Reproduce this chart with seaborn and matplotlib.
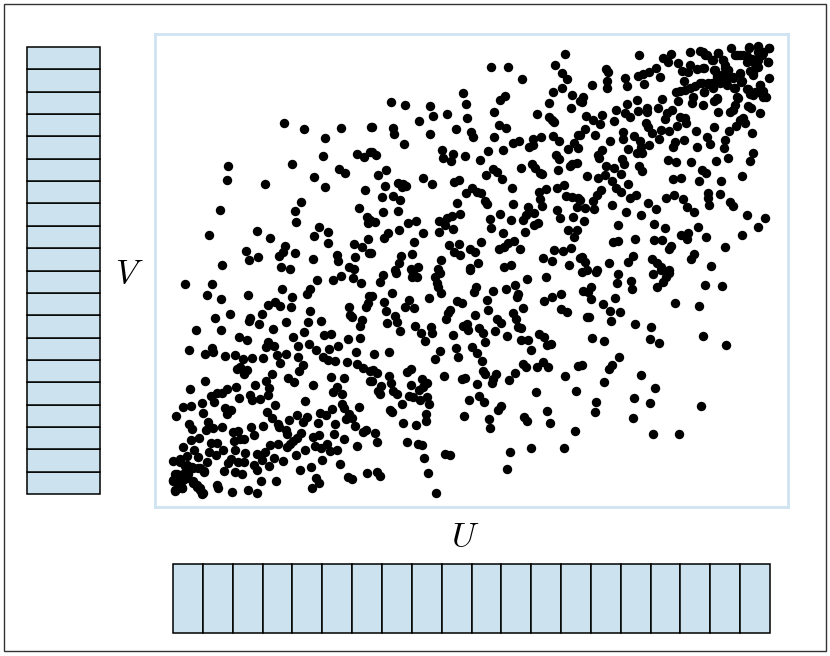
import numpy as np
import pandas as pd
import seaborn as sns
import matplotlib.pyplot as plt
from matplotlib.patches import Rectangle

# values, on a scale of 597 units for U and 447 for V
u_low_left = [12,39,34,48,75,109,119,134,137,144,160,168,180,188,196,95,102,107,118,137,176,177,179,189,187,193,195,57,42,89,77,76,86,113,135,148,23,48,100,131,151,158,66,74,120,175,187,95,93,101,125,136,165,156,143,16,39,32,40,52,62,70,79,90,104,113,107,125,150,155,162,174,183,184,190,197,130,126,67,64,74,71,99,115,121,158,171,197,32,93,82,96,63,140,164,160,169,17,54,44,49,38,41,77,79,87,95,66,132,102,29,18,10,3,30,52,58,54,169,171,186,159,94,99,124,134,147,153,176,179,173,116,130,145,162,182,35,16,19,33,40,49,78,90,105,106,60,65,81,113,114,128,161,193,190,171,146,140,18,26,61,67,71,124,120,117,114,38,44,97,105,142,148,154,184,10,21,62,132,157,164,36,50,25,14,43,34,72,84,92,123,101,0,7,14,20,27,31,58,55,51,65,71,81,84,89,96,110,149,167,127,138,62,69,194,175,179,4,10,0,7,14,20,27,29,2,9,24,44,45,59,75,84,88,103,143,146,139]
v_low_left = [210,210,199,195,199,205,197,200,205,214,214,218,216,211,198,189,192,188,187,183,187,179,177,174,168,187,191,180,176,180,176,173,170,172,172,173,164,164,165,162,159,160,157,154,157,155,156,152,147,148,148,150,148,145,144,144,146,140,142,138,139,135,136,136,139,140,131,137,137,134,133,132,142,130,126,123,129,123,127,125,124,120,120,116,112,117,116,113,113,113,109,106,107,109,107,102,100,105,105,101,101,98,92,99,94,95,99,96,93,89,91,88,87,78,81,86,84,80,90,86,87,85,82,76,79,77,81,79,80,76,75,74,72,71,70,68,72,70,65,64,66,67,67,68,70,67,62,63,59,64,60,61,60,64,62,55,59,57,54,56,53,55,55,56,53,50,47,51,51,49,50,48,46,50,48,47,44,44,44,43,44,42,44,37,38,39,32,41,40,42,39,36,33,35,29,26,26,23,35,31,23,32,32,29,24,34,28,33,34,30,24,27,22,20,21,17,15,20,20,14,11,16,11,6,0,3,6,7,9,6,2,4,1,13,13,16,11,6]

u_low_mid = [210,223,240,239,244,262,267,207,264,265,268,219,256,199,211,236,232,241,213,222,224,214,227,242,248,258,259,252,280,267,262,283,285,201,216,297,354,373,342,333,320,303,301,345,344,314,284,289,315,277,275,273,302,340,343,350,371,379,388,388,394,324,328,290,294,295,306,310,322,334,345,348,366,371,348,355,312,299,304,309,358,374,378,350,353,364,370,375,405,200,204,238,234,216,218,199,249,254,250,246,238,271,289,292,310,312,323,320,319,342,336,304,392,208,205,207,220,224,236,240,247,254,256,229,296,306,311,328,325,363,403,217,219,253,253,230,243,291,316,317,351,354,374,377,402,202,204,234,245,249,251,272,277,337,358,391,334,255,204,207,263]
v_low_mid = [219,221,221,217,217,217,221,212,211,207,201,201,196,198,192,194,187,186,183,178,172,171,163,168,161,167,161,153,159,143,135,146,137,140,142,224,215,217,209,205,203,207,202,200,197,194,193,191,184,184,181,175,179,181,175,186,193,197,200,185,182,175,171,168,170,164,166,161,163,158,167,166,160,157,154,154,152,147,141,133,144,149,150,130,127,127,132,127,128,124,121,125,122,118,111,113,115,111,107,104,109,118,115,116,123,120,120,115,111,121,114,110,118,108,103,100,103,100,98,97,94,97,90,90,94,98,92,88,84,102,103,84,82,80,73,71,69,78,75,66,77,73,83,71,63,61,52,52,50,49,36,40,39,42,46,46,25,21,22,18,1]

u_low_right = [409,423,445,458,444,459,480,488,496,493,490,484,532,549,418,410,415,418,442,430,437,447,438,414,416,502,526,462,478,530,553,419,431,477,486,446,439,436,409,468,431,482,461,423,422,477,528,460,480,506]
v_low_right = [222,222,220,213,211,205,220,224,221,217,212,207,209,208,207,203,202,195,196,190,183,182,173,177,177,191,188,170,167,158,149,156,153,155,151,137,129,125,129,119,112,106,96,92,82,91,88,76,60,60]

u_high_left = [111,131,152,168,198,150,184,191,197,55,119,166,172,54,141,92,152,192,128,47,122,186,194,195,123,146,36,84,141,155,97,195,155,181,189,196,73,112,110,106,122,76,85,140,164,165,182,49,108,117,176,181]
v_high_left = [371,365,356,366,367,338,340,337,342,328,330,325,321,314,317,310,307,304,292,284,283,286,277,271,272,267,259,263,258,262,256,255,251,250,247,241,243,248,242,238,241,234,237,235,239,233,237,229,227,225,227,225]

u_high_mid = [392,318,335,382,389,394,349,290,380,389,399,332,327,218,232,257,293,376,407,398,321,364,274,260,294,376,379,381,246,326,333,199,220,221,283,257,298,300,321,368,380,386,405,360,346,340,360,356,231,401,405,395,330,315,199,203,269,280,270,278,292,307,383,386,348,359,362,367,369,385,397,399,404,320,324,313,329,213,205,250,259,212,225,229,230,233,281,286,339,384,391,373,366,209,220,227,284,293,299,304,308,312,314,367,369,340,393,399,405,404,210,225,287,355,327,361,384,387,400,353,350,338,317,202,197,235,243,266,274,279,272,266,280,365,361,318,226,250,352,330,215,211,241,395,404,401,308,276,286,341,335,331,326,347,297,302,281,287,239,228,381,390,398,370,379,198,226,268,305,297,245,238,222,265,338,331,396,407]
v_high_mid = [440,427,427,429,421,415,415,401,402,406,399,398,394,392,389,388,390,391,393,386,382,380,380,378,376,377,374,372,373,369,366,367,366,360,365,360,362,357,357,357,358,353,359,355,353,351,349,347,350,351,346,345,344,343,342,339,344,340,336,333,338,334,339,335,326,330,326,321,320,324,328,330,331,325,322,319,315,324,319,316,310,308,311,307,310,308,312,314,306,306,309,305,302,297,298,294,291,301,306,302,301,293,290,295,288,290,298,297,296,287,282,283,280,287,280,281,284,276,277,279,274,274,275,272,274,271,273,273,276,278,269,262,265,271,269,266,264,261,262,261,261,256,252,264,264,257,252,249,250,253,251,247,245,245,245,242,242,239,240,238,244,243,246,236,233,241,231,234,231,226,227,225,224,225,229,227,229,236]

u_high_right = [466,498,490,495,505,517,527,532,545,539,550,552,558,564,570,576,585,596,589,585,595,574,584,590,433,435,483,509,517,515,524,531,541,544,549,555,580,567,560,452,434,419,434,454,465,470,476,487,471,511,596,539,535,527,522,517,512,507,503,540,547,554,561,568,575,587,590,593,580,582,564,531,410,409,464,489,520,519,505,544,541,530,454,452,443,457,465,474,474,485,499,494,492,575,578,562,560,557,545,587,413,420,427,429,441,507,512,513,570,572,567,563,556,541,473,475,504,488,496,523,579,412,407,422,450,450,461,479,486,534,552,511,437,467,476,468,502,500,537,524,551,455,464,469,429,425,426,555,580,577,495,503,518,543,449,451,433,441,466,469,529,533,569,414,425,432,448,500,508,526,548,439,443,448,455,428,424,420,463,457,501,493,510,535,535,547,536,557,560,412,407,421,439,475,483,514,521,453,468,574,592,585,411,445,481,492,525,508,515,514,533,569,462,481,489,445,440,552,498,496,460,455,521,518,412,409,436,479,484,488,538,424,496,414]
v_high_right = [439,440,436,432,431,442,443,439,441,434,434,426,446,439,439,446,447,446,439,434,432,432,427,442,425,422,426,423,429,422,425,426,424,417,419,424,421,420,417,416,413,409,406,408,418,420,422,417,410,413,416,411,410,411,408,406,404,403,402,406,411,409,406,412,405,409,403,397,399,402,397,402,397,392,394,395,397,391,393,395,393,389,390,381,384,377,383,386,382,386,384,381,375,388,386,389,384,382,382,381,378,374,370,379,373,377,376,371,376,371,374,368,363,367,371,367,368,364,363,363,361,365,359,359,362,355,358,361,355,357,354,354,353,353,349,347,352,347,350,347,346,345,341,341,344,339,336,336,341,333,334,332,332,333,335,330,328,326,328,323,324,321,318,318,316,319,320,315,316,313,313,313,306,302,310,304,299,293,299,296,299,296,295,301,296,300,289,292,288,286,294,285,289,291,285,287,282,282,279,279,276,267,273,269,270,266,267,259,261,255,257,259,255,254,254,253,252,247,248,245,238,232,240,235,232,237,231,235,231,227,228,224,224,224]

u_corner_low = [2,9,0,4,10,5,2,9,20,24,27,30,15,7,12,19,25,31]
v_corner_low = [20,19,13,16,14,9,4,6,13,9,4,1,20,32,28,27,26,22]
u_corner_high = [576,585,596,585,590,595,585,582,585,574,567,562,579,577,580,587,530,534,545,540,550,552,555,542,544,549,554,560,567,569,530,529,535,540,547,550,562,531,574,577,585,590,544,565]
v_corner_high = [447,448,446,442,441,432,435,430,427,438,439,439,435,423,419,409,442,439,441,434,434,429,424,424,419,419,416,416,421,413,426,411,411,407,412,412,406,402,405,400,402,397,396,396]

# the margins are flat, every bin holds the same count
n_bins = 20
bin_centers = (np.arange(n_bins) + 0.5) / n_bins
bin_counts = [40] * n_bins

light_blue = '#cde2ef'

df = pd.DataFrame({
    'U': np.concatenate([u_low_left, u_low_mid, u_low_right, u_high_left, u_high_mid, u_high_right,
                         u_corner_low, u_corner_high]) / 597,
    'V': np.concatenate([v_low_left, v_low_mid, v_low_right, v_high_left, v_high_mid, v_high_right,
                         v_corner_low, v_corner_high]) / 447,
})
margin = pd.DataFrame({'center': bin_centers, 'count': bin_counts})

plt.rcParams['mathtext.fontset'] = 'cm'
W, H = 830, 656
fig = plt.figure(figsize=(W / 100, H / 100), dpi=100)


def axes_px(x0, y0, x1, y1):
    return fig.add_axes([x0 / W, 1 - y1 / H, (x1 - x0) / W, (y1 - y0) / H])


# joint scatter
ax = axes_px(155, 34, 788, 507)
sns.scatterplot(data=df, x='U', y='V', color='black', s=46, linewidth=0, ax=ax, clip_on=False)
ax.set_xlim(-18 / 597, 615 / 597)
ax.set_ylim(-13 / 447, 460 / 447)
ax.set_xticks([])
ax.set_yticks([])
ax.set_xlabel('')
ax.set_ylabel('')
for spine in ax.spines.values():
    spine.set_color('#cfe4f2')
    spine.set_linewidth(2)

# marginal of V on the left
ax_left = axes_px(27, 47, 100, 494)
sns.histplot(data=margin, y='center', weights='count', bins=n_bins, binrange=(0, 1), color=light_blue,
             alpha=1, edgecolor='black', linewidth=1.1, ax=ax_left)
ax_left.set_xlim(0, 40)
ax_left.set_ylim(0, 1)
ax_left.axis('off')
for p in ax_left.patches:
    p.set_clip_on(False)

# marginal of U at the bottom
ax_bottom = axes_px(173, 563.5, 770, 633)
sns.histplot(data=margin, x='center', weights='count', bins=n_bins, binrange=(0, 1), color=light_blue,
             alpha=1, edgecolor='black', linewidth=1.1, ax=ax_bottom)
ax_bottom.set_xlim(0, 1)
ax_bottom.set_ylim(0, 40)
ax_bottom.axis('off')
for p in ax_bottom.patches:
    p.set_clip_on(False)

fig.text(465 / W, 1 - 536 / H, '$U$', fontsize=25, ha='center', va='center')
fig.text(129 / W, 1 - 273 / H, '$V$', fontsize=25, ha='center', va='center')

# outer frame
fig.add_artist(Rectangle((4.3 / W, 1 - 651 / H), 821.7 / W, 647 / H, transform=fig.transFigure,
                         fill=False, edgecolor='#333333', linewidth=1))

fig.savefig('out.png', dpi=100)
